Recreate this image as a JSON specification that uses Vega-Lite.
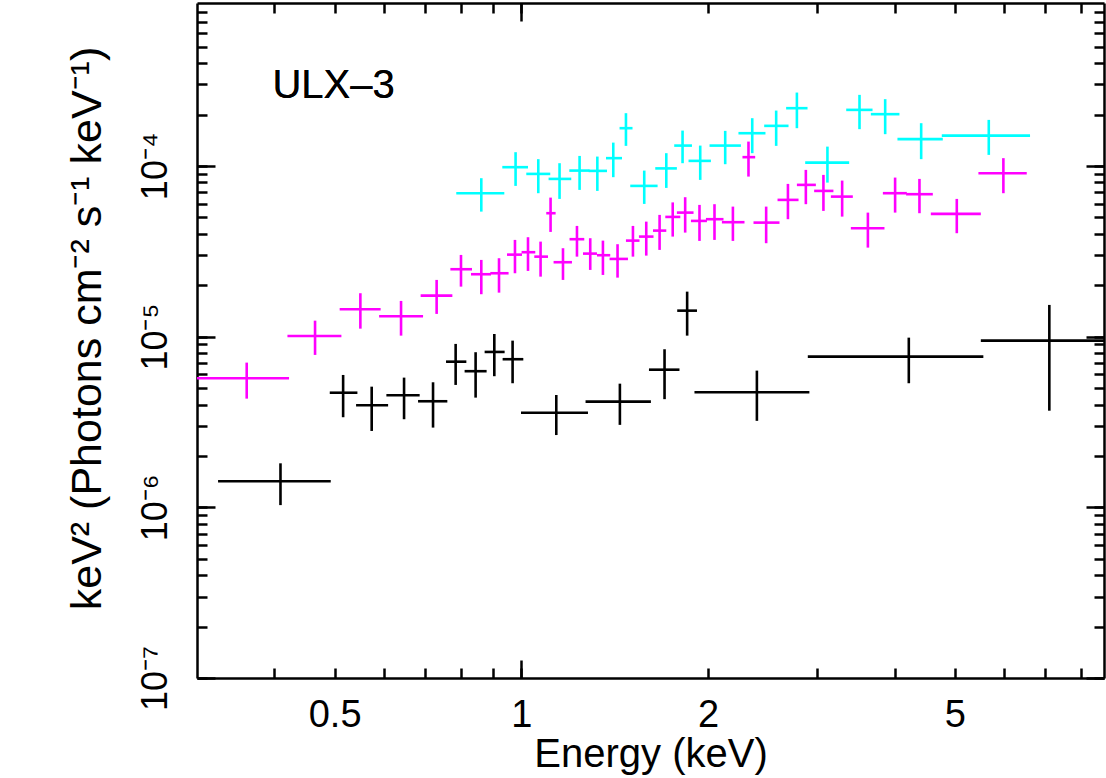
{
  "$schema": "https://vega.github.io/schema/vega-lite/v6.json",
  "width": 907,
  "height": 675,
  "autosize": {"type": "none"},
  "padding": {"left": 197, "top": 3, "right": 2, "bottom": 100},
  "background": "white",
  "config": {
    "view": {"stroke": null},
    "font": "Liberation Sans",
    "axis": {
      "grid": false,
      "domainColor": "black",
      "domainWidth": 2.5,
      "tickColor": "black",
      "tickWidth": 2.5,
      "labelColor": "black",
      "titleColor": "black",
      "labelFont": "Liberation Sans",
      "titleFont": "Liberation Sans",
      "labelFontSize": 36,
      "titleFontSize": 40,
      "titleFontWeight": "normal",
      "labelOverlap": false,
      "labelFlush": false
    }
  },
  "datasets": {
    "pts": [
      {"s": "a", "e": 0.409, "elo": 0.3244, "ehi": 0.4929, "f": 1.42e-6, "flo": 1.03e-6, "fhi": 1.81e-6},
      {"s": "a", "e": 0.5161, "elo": 0.4911, "ehi": 0.5442, "f": 4.69e-6, "flo": 3.37e-6, "fhi": 5.96e-6},
      {"s": "a", "e": 0.5738, "elo": 0.5415, "ehi": 0.6099, "f": 3.96e-6, "flo": 2.80e-6, "fhi": 5.09e-6},
      {"s": "a", "e": 0.6471, "elo": 0.606, "ehi": 0.6857, "f": 4.53e-6, "flo": 3.28e-6, "fhi": 5.75e-6},
      {"s": "a", "e": 0.7206, "elo": 0.6816, "ehi": 0.7599, "f": 4.18e-6, "flo": 2.93e-6, "fhi": 5.40e-6},
      {"s": "a", "e": 0.7837, "elo": 0.7562, "ehi": 0.8155, "f": 7.13e-6, "flo": 5.21e-6, "fhi": 9.06e-6},
      {"s": "a", "e": 0.844, "elo": 0.8102, "ehi": 0.8792, "f": 6.27e-6, "flo": 4.39e-6, "fhi": 8.10e-6},
      {"s": "a", "e": 0.9047, "elo": 0.8727, "ehi": 0.94, "f": 8.13e-6, "flo": 5.86e-6, "fhi": 1.036e-5},
      {"s": "a", "e": 0.9682, "elo": 0.933, "ehi": 1.0075, "f": 7.37e-6, "flo": 5.33e-6, "fhi": 9.47e-6},
      {"s": "a", "e": 1.1387, "elo": 0.9989, "ehi": 1.2809, "f": 3.58e-6, "flo": 2.65e-6, "fhi": 4.55e-6},
      {"s": "a", "e": 1.442, "elo": 1.2694, "ehi": 1.618, "f": 4.16e-6, "flo": 3.04e-6, "fhi": 5.30e-6},
      {"s": "a", "e": 1.702, "elo": 1.6063, "ehi": 1.799, "f": 6.40e-6, "flo": 4.30e-6, "fhi": 8.43e-6},
      {"s": "a", "e": 1.851, "elo": 1.784, "ehi": 1.9198, "f": 1.419e-5, "flo": 1.013e-5, "fhi": 1.834e-5},
      {"s": "a", "e": 2.398, "elo": 1.902, "ehi": 2.914, "f": 4.72e-6, "flo": 3.21e-6, "fhi": 6.32e-6},
      {"s": "a", "e": 4.215, "elo": 2.897, "ehi": 5.559, "f": 7.63e-6, "flo": 5.33e-6, "fhi": 9.86e-6},
      {"s": "a", "e": 7.102, "elo": 5.507, "ehi": 9.16, "f": 9.47e-6, "flo": 3.68e-6, "fhi": 1.533e-5},
      {"s": "b", "e": 0.3608, "elo": 0.295, "ehi": 0.4222, "f": 5.70e-6, "flo": 4.33e-6, "fhi": 7.04e-6},
      {"s": "b", "e": 0.465, "elo": 0.4197, "ehi": 0.5128, "f": 1.009e-5, "flo": 7.81e-6, "fhi": 1.24e-5},
      {"s": "b", "e": 0.5502, "elo": 0.5095, "ehi": 0.5932, "f": 1.446e-5, "flo": 1.113e-5, "fhi": 1.795e-5},
      {"s": "b", "e": 0.6399, "elo": 0.5898, "ehi": 0.6944, "f": 1.316e-5, "flo": 1.013e-5, "fhi": 1.618e-5},
      {"s": "b", "e": 0.7303, "elo": 0.6882, "ehi": 0.7742, "f": 1.738e-5, "flo": 1.358e-5, "fhi": 2.148e-5},
      {"s": "b", "e": 0.7994, "elo": 0.7685, "ehi": 0.8327, "f": 2.481e-5, "flo": 1.962e-5, "fhi": 3.009e-5},
      {"s": "b", "e": 0.862, "elo": 0.8297, "ehi": 0.8937, "f": 2.319e-5, "flo": 1.771e-5, "fhi": 2.813e-5},
      {"s": "b", "e": 0.9206, "elo": 0.8913, "ehi": 0.9539, "f": 2.35e-5, "flo": 1.809e-5, "fhi": 2.878e-5},
      {"s": "b", "e": 0.9768, "elo": 0.9484, "ehi": 1.0026, "f": 3.021e-5, "flo": 2.35e-5, "fhi": 3.685e-5},
      {"s": "b", "e": 1.0252, "elo": 1.0011, "ehi": 1.0533, "f": 3.121e-5, "flo": 2.425e-5, "fhi": 3.821e-5},
      {"s": "b", "e": 1.0742, "elo": 1.0494, "ehi": 1.1043, "f": 2.94e-5, "flo": 2.245e-5, "fhi": 3.601e-5},
      {"s": "b", "e": 1.1148, "elo": 1.0971, "ehi": 1.1359, "f": 5.282e-5, "flo": 4.104e-5, "fhi": 6.519e-5},
      {"s": "b", "e": 1.1674, "elo": 1.1273, "ehi": 1.2069, "f": 2.727e-5, "flo": 2.148e-5, "fhi": 3.294e-5},
      {"s": "b", "e": 1.2296, "elo": 1.1961, "ehi": 1.2634, "f": 3.72e-5, "flo": 2.94e-5, "fhi": 4.45e-5},
      {"s": "b", "e": 1.2917, "elo": 1.2573, "ehi": 1.3243, "f": 3.063e-5, "flo": 2.458e-5, "fhi": 3.77e-5},
      {"s": "b", "e": 1.354, "elo": 1.3243, "ehi": 1.3912, "f": 2.997e-5, "flo": 2.297e-5, "fhi": 3.65e-5},
      {"s": "b", "e": 1.4295, "elo": 1.3877, "ehi": 1.4859, "f": 2.851e-5, "flo": 2.215e-5, "fhi": 3.477e-5},
      {"s": "b", "e": 1.5136, "elo": 1.4748, "ehi": 1.5509, "f": 3.65e-5, "flo": 2.94e-5, "fhi": 4.45e-5},
      {"s": "b", "e": 1.5903, "elo": 1.5476, "ehi": 1.6337, "f": 3.853e-5, "flo": 2.981e-5, "fhi": 4.716e-5},
      {"s": "b", "e": 1.671, "elo": 1.6306, "ehi": 1.7131, "f": 4.177e-5, "flo": 3.22e-5, "fhi": 5.164e-5},
      {"s": "b", "e": 1.7545, "elo": 1.7067, "ehi": 1.8046, "f": 5.024e-5, "flo": 3.853e-5, "fhi": 6.111e-5},
      {"s": "b", "e": 1.8375, "elo": 1.7817, "ehi": 1.8955, "f": 5.325e-5, "flo": 4.066e-5, "fhi": 6.555e-5},
      {"s": "b", "e": 1.9378, "elo": 1.8773, "ehi": 1.9921, "f": 4.761e-5, "flo": 3.635e-5, "fhi": 5.909e-5},
      {"s": "b", "e": 2.0488, "elo": 1.9848, "ehi": 2.1184, "f": 4.872e-5, "flo": 3.685e-5, "fhi": 5.965e-5},
      {"s": "b", "e": 2.1937, "elo": 2.1058, "ehi": 2.2902, "f": 4.679e-5, "flo": 3.635e-5, "fhi": 5.774e-5},
      {"s": "b", "e": 2.3244, "elo": 2.273, "ehi": 2.3829, "f": 1.125e-4, "flo": 8.656e-5, "fhi": 1.388e-4},
      {"s": "b", "e": 2.482, "elo": 2.368, "ehi": 2.608, "f": 4.653e-5, "flo": 3.524e-5, "fhi": 5.774e-5},
      {"s": "b", "e": 2.691, "elo": 2.589, "ehi": 2.799, "f": 6.322e-5, "flo": 4.872e-5, "fhi": 7.844e-5},
      {"s": "b", "e": 2.876, "elo": 2.782, "ehi": 2.985, "f": 7.74e-5, "flo": 5.965e-5, "fhi": 9.475e-5},
      {"s": "b", "e": 3.07, "elo": 2.966, "ehi": 3.186, "f": 7.136e-5, "flo": 5.448e-5, "fhi": 8.857e-5},
      {"s": "b", "e": 3.291, "elo": 3.156, "ehi": 3.424, "f": 6.608e-5, "flo": 5.045e-5, "fhi": 8.203e-5},
      {"s": "b", "e": 3.621, "elo": 3.399, "ehi": 3.851, "f": 4.314e-5, "flo": 3.321e-5, "fhi": 5.325e-5},
      {"s": "b", "e": 4.006, "elo": 3.828, "ehi": 4.184, "f": 6.918e-5, "flo": 5.325e-5, "fhi": 8.542e-5},
      {"s": "b", "e": 4.385, "elo": 4.173, "ehi": 4.608, "f": 6.826e-5, "flo": 5.282e-5, "fhi": 8.39e-5},
      {"s": "b", "e": 5.037, "elo": 4.574, "ehi": 5.507, "f": 5.233e-5, "flo": 4.033e-5, "fhi": 6.406e-5},
      {"s": "b", "e": 5.988, "elo": 5.458, "ehi": 6.531, "f": 9.062e-5, "flo": 6.918e-5, "fhi": 1.11e-4},
      {"s": "c", "e": 0.862, "elo": 0.7855, "ehi": 0.9389, "f": 6.918e-5, "flo": 5.397e-5, "fhi": 8.472e-5},
      {"s": "c", "e": 0.979, "elo": 0.9319, "ehi": 1.0252, "f": 9.826e-5, "flo": 7.635e-5, "fhi": 1.203e-4},
      {"s": "c", "e": 1.0651, "elo": 1.0187, "ehi": 1.1135, "f": 8.976e-5, "flo": 6.918e-5, "fhi": 1.095e-4},
      {"s": "c", "e": 1.1526, "elo": 1.1066, "ehi": 1.2038, "f": 8.39e-5, "flo": 6.406e-5, "fhi": 1.037e-4},
      {"s": "c", "e": 1.2416, "elo": 1.195, "ehi": 1.2885, "f": 9.386e-5, "flo": 7.234e-5, "fhi": 1.144e-4},
      {"s": "c", "e": 1.3262, "elo": 1.2837, "ehi": 1.3747, "f": 9.348e-5, "flo": 7.136e-5, "fhi": 1.134e-4},
      {"s": "c", "e": 1.407, "elo": 1.3694, "ehi": 1.4532, "f": 1.11e-4, "flo": 8.587e-5, "fhi": 1.369e-4},
      {"s": "c", "e": 1.4748, "elo": 1.4402, "ehi": 1.5112, "f": 1.663e-4, "flo": 1.31e-4, "fhi": 2.036e-4},
      {"s": "c", "e": 1.5784, "elo": 1.4985, "ehi": 1.6587, "f": 7.635e-5, "flo": 5.988e-5, "fhi": 9.386e-5},
      {"s": "c", "e": 1.7131, "elo": 1.6443, "ehi": 1.7817, "f": 9.668e-5, "flo": 7.431e-5, "fhi": 1.187e-4},
      {"s": "c", "e": 1.8197, "elo": 1.7643, "ehi": 1.8843, "f": 1.315e-4, "flo": 1.037e-4, "fhi": 1.61e-4},
      {"s": "c", "e": 1.9431, "elo": 1.8605, "ehi": 2.0217, "f": 1.07e-4, "flo": 8.279e-5, "fhi": 1.315e-4},
      {"s": "c", "e": 2.1319, "elo": 2.0114, "ehi": 2.2599, "f": 1.315e-4, "flo": 1.023e-4, "fhi": 1.604e-4},
      {"s": "c", "e": 2.357, "elo": 2.2394, "ehi": 2.4757, "f": 1.554e-4, "flo": 1.187e-4, "fhi": 1.903e-4},
      {"s": "c", "e": 2.576, "elo": 2.4639, "ehi": 2.6969, "f": 1.716e-4, "flo": 1.31e-4, "fhi": 2.109e-4},
      {"s": "c", "e": 2.782, "elo": 2.673, "ehi": 2.894, "f": 2.178e-4, "flo": 1.663e-4, "fhi": 2.689e-4},
      {"s": "c", "e": 3.116, "elo": 2.869, "ehi": 3.378, "f": 1.045e-4, "flo": 7.981e-5, "fhi": 1.297e-4},
      {"s": "c", "e": 3.51, "elo": 3.341, "ehi": 3.684, "f": 2.129e-4, "flo": 1.641e-4, "fhi": 2.607e-4},
      {"s": "c", "e": 3.861, "elo": 3.661, "ehi": 4.071, "f": 2.009e-4, "flo": 1.534e-4, "fhi": 2.46e-4},
      {"s": "c", "e": 4.413, "elo": 4.041, "ehi": 4.782, "f": 1.434e-4, "flo": 1.095e-4, "fhi": 1.779e-4},
      {"s": "c", "e": 5.672, "elo": 4.764, "ehi": 6.611, "f": 1.505e-4, "flo": 1.16e-4, "fhi": 1.86e-4}
    ],
    "lbl": [{"t": "ULX–3", "e": 0.397, "f": 2.49e-4}]
  },
  "layer": [
    {
      "data": {"name": "pts"},
      "mark": {"type": "rule", "strokeWidth": 2.6, "clip": true},
      "encoding": {
        "x": {"field": "elo", "type": "quantitative",
          "scale": {"type": "log", "domain": [0.3, 8.7], "nice": false},
          "axis": {"orient": "bottom", "values": [0.4,0.5,0.6,0.7,0.8,0.9,1,2,3,4,5,6,7,8], "tickSize": -10, "labelPadding": 28, "labelBaseline": "top", "labelFontSize": 38,
            "labelExpr": "(datum.value == 0.5 || datum.value == 1 || datum.value == 2 || datum.value == 5) ? format(datum.value, '~g') : ''",
            "title": "Energy (keV)", "titlePadding": 0}},
        "x2": {"field": "ehi"},
        "y": {"field": "f", "type": "quantitative",
          "scale": {"type": "log", "domain": [1e-7, 9e-4], "nice": false},
          "axis": {"orient": "left", "values": [1e-7,2e-7,3e-7,4e-7,5e-7,6e-7,7e-7,8e-7,9e-7,1e-6,2e-6,3e-6,4e-6,5e-6,6e-6,7e-6,8e-6,9e-6,1e-5,2e-5,3e-5,4e-5,5e-5,6e-5,7e-5,8e-5,9e-5,1e-4,2e-4,3e-4,4e-4,5e-4,6e-4,7e-4,8e-4],
            "tickSize": -10, "labelPadding": 33, "labelAngle": 270, "labelAlign": "center", "labelBaseline": "bottom",
            "labelExpr": "datum.value == 1e-7 ? '10⁻⁷' : datum.value == 1e-6 ? '10⁻⁶' : datum.value == 1e-5 ? '10⁻⁵' : datum.value == 1e-4 ? '10⁻⁴' : ''",
            "title": "keV² (Photons cm⁻² s⁻¹ keV⁻¹)", "titleFontSize": 43, "titlePadding": 28, "titleY": 325}},
        "color": {"field": "s", "type": "nominal", "scale": {"domain": ["a", "b", "c"], "range": ["#000000", "#ff00ff", "#00ffff"]}, "legend": null}
      }
    },
    {
      "data": {"name": "pts"},
      "mark": {"type": "rule", "strokeWidth": 2.6, "clip": true},
      "encoding": {
        "x": {"field": "e", "type": "quantitative",
          "scale": {"type": "log", "domain": [0.3, 8.7], "nice": false},
          "axis": {"orient": "top", "values": [0.4,0.5,0.6,0.7,0.8,0.9,1,2,3,4,5,6,7,8], "tickSize": -10, "labels": false, "title": null}},
        "y": {"field": "flo", "type": "quantitative",
          "scale": {"type": "log", "domain": [1e-7, 9e-4], "nice": false},
          "axis": {"orient": "right", "values": [1e-7,2e-7,3e-7,4e-7,5e-7,6e-7,7e-7,8e-7,9e-7,1e-6,2e-6,3e-6,4e-6,5e-6,6e-6,7e-6,8e-6,9e-6,1e-5,2e-5,3e-5,4e-5,5e-5,6e-5,7e-5,8e-5,9e-5,1e-4,2e-4,3e-4,4e-4,5e-4,6e-4,7e-4,8e-4],
            "tickSize": -10, "labels": false, "title": null}},
        "y2": {"field": "fhi"},
        "color": {"field": "s", "type": "nominal", "scale": {"domain": ["a", "b", "c"], "range": ["#000000", "#ff00ff", "#00ffff"]}, "legend": null}
      }
    },
    {
      "data": {"name": "lbl"},
      "mark": {"type": "text", "align": "left", "baseline": "alphabetic", "fontSize": 40, "font": "Liberation Sans", "color": "black"},
      "encoding": {
        "x": {"field": "e", "type": "quantitative",
          "scale": {"type": "log", "domain": [0.3, 8.7], "nice": false},
          "axis": {"orient": "bottom", "values": [1], "tickSize": -18, "labels": false, "domain": false, "title": null}},
        "y": {"field": "f", "type": "quantitative",
          "scale": {"type": "log", "domain": [1e-7, 9e-4], "nice": false},
          "axis": {"orient": "left", "values": [1e-7, 1e-6, 1e-5, 1e-4], "tickSize": -18, "labels": false, "domain": false, "title": null}},
        "text": {"field": "t"}
      }
    },
    {
      "data": {"name": "lbl"},
      "mark": {"type": "text", "align": "left", "baseline": "alphabetic", "fontSize": 40, "font": "Liberation Sans", "color": "black"},
      "encoding": {
        "x": {"field": "e", "type": "quantitative",
          "scale": {"type": "log", "domain": [0.3, 8.7], "nice": false},
          "axis": {"orient": "top", "values": [1], "tickSize": -18, "labels": false, "domain": false, "title": null}},
        "y": {"field": "f", "type": "quantitative",
          "scale": {"type": "log", "domain": [1e-7, 9e-4], "nice": false},
          "axis": {"orient": "right", "values": [1e-7, 1e-6, 1e-5, 1e-4], "tickSize": -18, "labels": false, "domain": false, "title": null}},
        "text": {"field": "t"}
      }
    }
  ],
  "resolve": {"axis": {"x": "independent", "y": "independent"}}
}
